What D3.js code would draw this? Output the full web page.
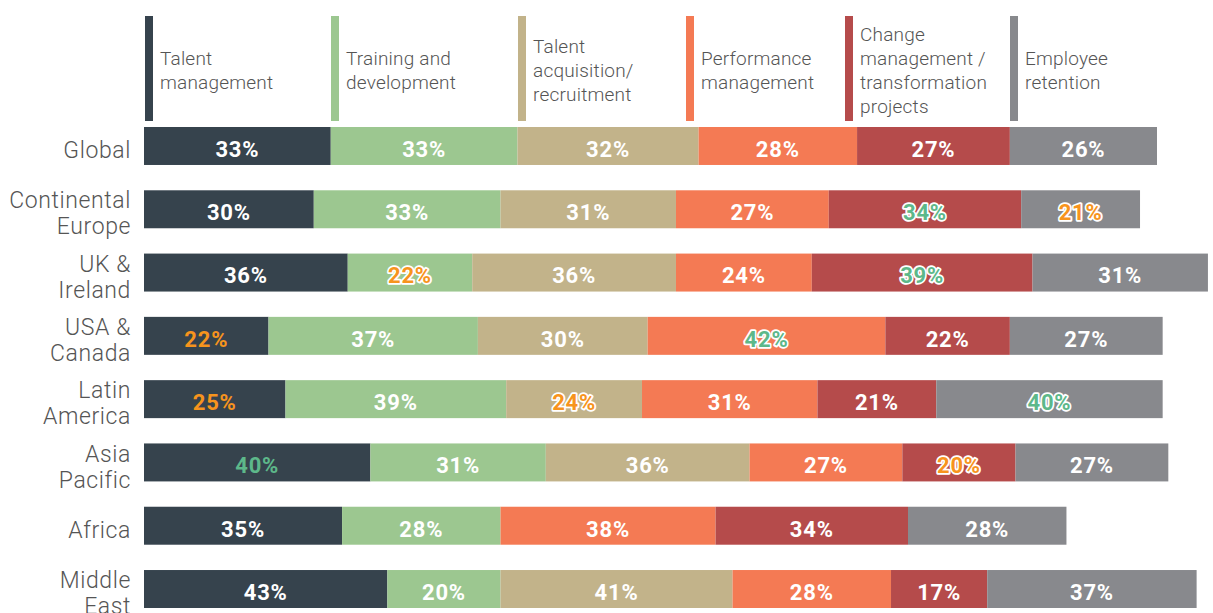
<!DOCTYPE html>
<html>
<head>
<meta charset="utf-8">
<script src="https://cdn.jsdelivr.net/npm/d3@7"></script>
<style>
  body { margin: 0; background: #fff; }
  svg { display: block; }
</style>
</head>
<body>
<svg width="1213" height="613"></svg>
<script>
// regions (rows), top to bottom
const regions = ["Global", "Continental Europe", "UK & Ireland", "USA & Canada",
                 "Latin America", "Asia Pacific", "Africa", "Middle East"];
const regionLines = [["Global"], ["Continental", "Europe"], ["UK &", "Ireland"], ["USA &", "Canada"],
                     ["Latin", "America"], ["Asia", "Pacific"], ["Africa"], ["Middle", "East"]];

// series, in stack order
const series = ["Talent management", "Training and development", "Talent acquisition/ recruitment",
                "Performance management", "Change management / transformation projects", "Employee retention"];
const seriesLines = [["Talent", "management"], ["Training and", "development"], ["Talent", "acquisition/", "recruitment"],
                     ["Performance", "management"], ["Change", "management /", "transformation", "projects"], ["Employee", "retention"]];

// values per series (percent), one per region; null = not shown
const talentMgmt   = [33, 30, 36, 22, 25, 40, 35, 43];
const training     = [33, 33, 22, 37, 39, 31, 28, 20];
const acquisition  = [32, 31, 36, 30, 24, 36, null, 41];
const performance  = [28, 27, 24, 42, 31, 27, 38, 28];
const changeMgmt   = [27, 34, 39, 22, 21, 20, 34, 17];
const retention    = [26, 21, 31, 27, 40, 27, 28, 37];
const values = [talentMgmt, training, acquisition, performance, changeMgmt, retention];

// highlighted labels: [region index, series index]
const highs = [[1, 4], [2, 4], [3, 3], [4, 5], [5, 0]];
const lows  = [[1, 5], [2, 1], [3, 0], [4, 0], [4, 2], [5, 4]];

const colors = ["#36434d", "#9cc790", "#c2b38a", "#f47a54", "#b54b4b", "#88898d"];
const highColor = "#5db88a", lowColor = "#f7941d";

const svg = d3.select("svg");
const x0 = 144;

const x = d3.scaleLinear().domain([0, 179]).range([0, 1013]);
const y = d3.scaleBand().domain(regions).range([127, 608]).paddingInner(0.4).paddingOuter(0);

// stacked rows
const rows = regions.map(function(r, i) {
  let acc = 0;
  const segs = [];
  series.forEach(function(s, j) {
    const v = values[j][i];
    if (v == null) return;
    segs.push({region: r, ri: i, sj: j, v: v, x0: acc, x1: acc + v});
    acc += v;
  });
  return segs;
});
const segs = rows.flat();

function flag(d) {
  if (highs.some(h => h[0] === d.ri && h[1] === d.sj)) return "high";
  if (lows.some(h => h[0] === d.ri && h[1] === d.sj)) return "low";
  return null;
}

const chart = svg.append("g").attr("transform", "translate(" + x0 + ",0)");

chart.selectAll("rect.seg")
  .data(segs)
  .enter()
  .append("rect")
  .attr("class", "seg")
  .attr("x", d => x(d.x0))
  .attr("width", d => x(d.x1) - x(d.x0))
  .attr("y", d => y(d.region))
  .attr("height", y.bandwidth())
  .attr("fill", d => colors[d.sj]);

chart.selectAll("text.val")
  .data(segs)
  .enter()
  .append("text")
  .attr("class", "val")
  .attr("x", d => (x(d.x0) + x(d.x1)) / 2)
  .attr("y", d => y(d.region) + y.bandwidth() / 2 + 5)
  .attr("text-anchor", "middle")
  .attr("dominant-baseline", "middle")
  .style("font-family", "Roboto, sans-serif")
  .style("font-weight", "700")
  .style("font-size", "22px")
  .style("letter-spacing", "0.8px")
  .style("paint-order", "stroke")
  .style("stroke-linejoin", "round")
  .attr("fill", function(d) {
    const f = flag(d);
    return f === "high" ? highColor : f === "low" ? lowColor : "#fff";
  })
  .attr("stroke", function(d) {
    return flag(d) && d.sj !== 0 ? "#fff" : "none";
  })
  .attr("stroke-width", 3.5)
  .text(d => d.v + "%");

// region labels
const lab = svg.append("g")
  .selectAll("text")
  .data(regions)
  .enter()
  .append("text")
  .attr("text-anchor", "end")
  .style("font-family", "Roboto, sans-serif")
  .style("font-weight", "300")
  .style("font-size", "23px")
  .style("letter-spacing", "0.6px")
  .attr("fill", "#555");

lab.each(function(r, i) {
  const lines = regionLines[i];
  const cy = y(r) + y.bandwidth() / 2 + 6;
  d3.select(this).selectAll("tspan")
    .data(lines)
    .enter()
    .append("tspan")
    .attr("x", 131)
    .attr("y", (l, k) => cy + (k - (lines.length - 1) / 2) * 26)
    .attr("dominant-baseline", "middle")
    .text(l => l);
});

// legend
const legendX = [145, 331, 518, 686, 845, 1010];
const leg = svg.append("g")
  .selectAll("g")
  .data(series)
  .enter()
  .append("g")
  .attr("transform", (s, j) => "translate(" + legendX[j] + ",0)");

leg.append("rect")
  .attr("x", 0)
  .attr("y", 16)
  .attr("width", 8)
  .attr("height", 105)
  .attr("fill", (s, j) => colors[j]);

leg.append("text")
  .style("font-family", "Roboto, sans-serif")
  .style("font-weight", "300")
  .style("font-size", "19px")
  .style("letter-spacing", "0.2px")
  .attr("fill", "#555")
  .each(function(s, j) {
    const lines = seriesLines[j];
    d3.select(this).selectAll("tspan")
      .data(lines)
      .enter()
      .append("tspan")
      .attr("x", 15)
      .attr("y", (l, k) => 72 + (k - (lines.length - 1) / 2) * 24)
      .attr("dominant-baseline", "middle")
      .text(l => l);
  });
</script>
</body>
</html>
